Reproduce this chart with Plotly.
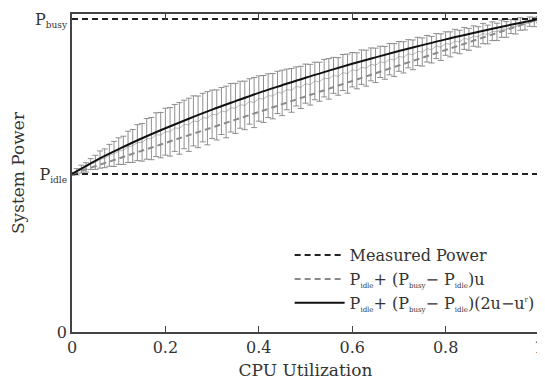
import plotly.graph_objects as go

# ---- data (power in arbitrary units; P_idle / P_busy are the reference levels) ----
P_IDLE = 101.0
P_BUSY = 200.0

u_vals = [0.00, 0.01, 0.02, 0.03, 0.04, 0.05, 0.06, 0.07, 0.08, 0.09,
          0.10, 0.11, 0.12, 0.13, 0.14, 0.15, 0.16, 0.17, 0.18, 0.19,
          0.20, 0.21, 0.22, 0.23, 0.24, 0.25, 0.26, 0.27, 0.28, 0.29,
          0.30, 0.31, 0.32, 0.33, 0.34, 0.35, 0.36, 0.37, 0.38, 0.39,
          0.40, 0.41, 0.42, 0.43, 0.44, 0.45, 0.46, 0.47, 0.48, 0.49,
          0.50, 0.51, 0.52, 0.53, 0.54, 0.55, 0.56, 0.57, 0.58, 0.59,
          0.60, 0.61, 0.62, 0.63, 0.64, 0.65, 0.66, 0.67, 0.68, 0.69,
          0.70, 0.71, 0.72, 0.73, 0.74, 0.75, 0.76, 0.77, 0.78, 0.79,
          0.80, 0.81, 0.82, 0.83, 0.84, 0.85, 0.86, 0.87, 0.88, 0.89,
          0.90, 0.91, 0.92, 0.93, 0.94, 0.95, 0.96, 0.97, 0.98, 0.99,
          1.00]

measured_mean = [101.0, 102.4, 104.1, 105.2, 107.3, 108.4, 110.2, 111.0, 112.9, 113.8,
                 115.6, 116.1, 118.3, 118.9, 121.0, 121.2, 123.4, 123.6, 126.1, 125.8,
                 128.0, 127.9, 130.4, 130.1, 132.6, 132.4, 134.9, 134.3, 137.0, 136.6,
                 139.1, 138.7, 141.2, 140.6, 143.3, 142.9, 145.2, 144.8, 147.3, 146.6,
                 149.2, 148.9, 151.0, 150.7, 153.1, 152.8, 155.0, 154.4, 156.9, 156.3,
                 158.7, 158.0, 160.4, 159.9, 162.2, 161.8, 164.0, 163.3, 165.8, 165.1,
                 167.6, 166.9, 169.2, 168.6, 171.0, 170.4, 172.6, 172.0, 174.3, 173.8,
                 176.1, 175.5, 177.8, 177.1, 179.3, 178.9, 181.0, 180.4, 182.7, 182.0,
                 184.3, 183.8, 185.9, 185.3, 187.6, 187.0, 189.1, 188.6, 190.7, 190.1,
                 192.2, 191.8, 193.8, 193.3, 195.2, 194.9, 196.8, 196.5, 198.3, 198.1,
                 199.6]

measured_err = [1.0, 2.0, 2.5, 3.0, 3.5, 4.5, 5.5, 6.0, 7.0, 8.0,
                8.5, 9.0, 10.0, 10.5, 11.5, 12.0, 13.0, 13.5, 14.0, 14.5,
                15.0, 15.5, 15.0, 16.5, 15.5, 17.0, 16.0, 16.5, 15.5, 17.0,
                15.5, 16.0, 15.0, 16.5, 15.5, 16.0, 15.0, 15.5, 14.5, 16.0,
                14.5, 15.0, 14.0, 14.5, 13.5, 14.5, 13.0, 14.0, 12.5, 13.5,
                12.5, 13.0, 12.0, 12.5, 12.0, 13.0, 11.5, 12.0, 11.5, 12.5,
                11.0, 11.5, 11.0, 11.5, 10.5, 11.0, 10.0, 10.5, 10.0, 10.5,
                9.5, 10.0, 9.0, 9.5, 9.0, 9.0, 8.5, 8.5, 8.0, 8.5,
                7.5, 8.0, 7.5, 7.5, 7.0, 7.0, 6.5, 6.5, 6.5, 6.0,
                6.0, 5.5, 5.5, 5.0, 4.5, 4.5, 4.0, 3.5, 3.0, 3.0,
                2.0]

# model curve P_idle + (P_busy - P_idle)(2u - u^r)
model_u = [0.00, 0.05, 0.10, 0.15, 0.20, 0.25, 0.30, 0.35, 0.40, 0.45, 0.50,
           0.55, 0.60, 0.65, 0.70, 0.75, 0.80, 0.85, 0.90, 0.95, 1.00]
model_p = [101.0, 109.4, 116.8, 123.8, 130.2, 136.3, 142.1, 147.5, 152.8, 157.7, 162.5,
           167.0, 171.4, 175.5, 179.5, 183.3, 187.0, 190.4, 193.8, 197.0, 200.0]

linear_u = [0.0, 1.0]
linear_p = [P_IDLE, P_BUSY]

x_ticks = [0, 0.2, 0.4, 0.6, 0.8, 1]
x_tick_text = ["0", "0.2", "0.4", "0.6", "0.8", "1"]
y_ticks = [0, P_IDLE, P_BUSY]


def sub(txt, px):
    return "<sub><span style='font-size:%dpx'>%s</span></sub>" % (px, txt)


def sup(txt, px):
    return "<sup><span style='font-size:%dpx'>%s</span></sup>" % (px, txt)


y_tick_text = ["0", "P" + sub("idle", 9), "P" + sub("busy", 9)]

LEG_SUB = 7
name_measured = "Measured Power"
name_linear = ("P" + sub("idle", LEG_SUB) + "+ (P" + sub("busy", LEG_SUB)
               + "− P" + sub("idle", LEG_SUB) + ")u")
name_model = ("P" + sub("idle", LEG_SUB) + "+ (P" + sub("busy", LEG_SUB)
              + "− P" + sub("idle", LEG_SUB) + ")(2u−u" + sup("r", LEG_SUB) + ")")

FONT = "DejaVu Serif"

fig = go.Figure()

# measured data with error bars (no legend entry)
fig.add_trace(go.Scatter(
    x=u_vals, y=measured_mean, mode="lines",
    line=dict(color="rgba(140,140,140,0.6)", width=1),
    error_y=dict(type="data", array=measured_err, visible=True,
                 color="rgba(125,125,125,0.85)", thickness=1, width=3),
    showlegend=False, hoverinfo="skip"))

# idle / busy measured levels
fig.add_trace(go.Scatter(
    x=[0, 1, None, 0, 1], y=[P_IDLE, P_IDLE, None, P_BUSY, P_BUSY],
    mode="lines", line=dict(color="#222222", width=2, dash="6px,4px"),
    name=name_measured))

fig.add_trace(go.Scatter(
    x=linear_u, y=linear_p, mode="lines",
    line=dict(color="#8a8a8a", width=2, dash="6px,4px"),
    name=name_linear))

fig.add_trace(go.Scatter(
    x=model_u, y=model_p, mode="lines", line=dict(color="#111111", width=2),
    line_shape="spline", name=name_model))

# the page body has an 8px default margin, so the figure is sized to fit the view
fig.update_layout(
    width=537, height=375,
    margin=dict(l=64, r=6, t=6, b=51, autoexpand=False),
    paper_bgcolor="white", plot_bgcolor="white",
    font=dict(family=FONT, size=16, color="#333333"),
    legend=dict(x=0.466, y=0.295, xanchor="left", yanchor="top",
                bgcolor="rgba(0,0,0,0)", font=dict(size=16, family=FONT, color="#333333"),
                tracegroupgap=0, itemwidth=50),
)

fig.update_xaxes(
    range=[0, 1], tickvals=x_ticks, ticktext=x_tick_text,
    ticks="inside", ticklen=6, tickcolor="#444444", tickwidth=1,
    showline=True, linecolor="#444444", linewidth=1.5, mirror="ticks",
    showgrid=False, zeroline=False, automargin=False,
    title=dict(text="CPU Utilization", font=dict(size=17), standoff=8),
    tickfont=dict(size=16))

fig.update_yaxes(
    range=[0, 203.2], tickvals=y_ticks, ticktext=y_tick_text,
    ticks="", showline=True, linecolor="#444444", linewidth=1.5, mirror=True,
    showgrid=False, zeroline=False, automargin=False,
    title=dict(text="System Power", font=dict(size=17), standoff=6),
    tickfont=dict(size=16))

fig.write_html("out.html")
